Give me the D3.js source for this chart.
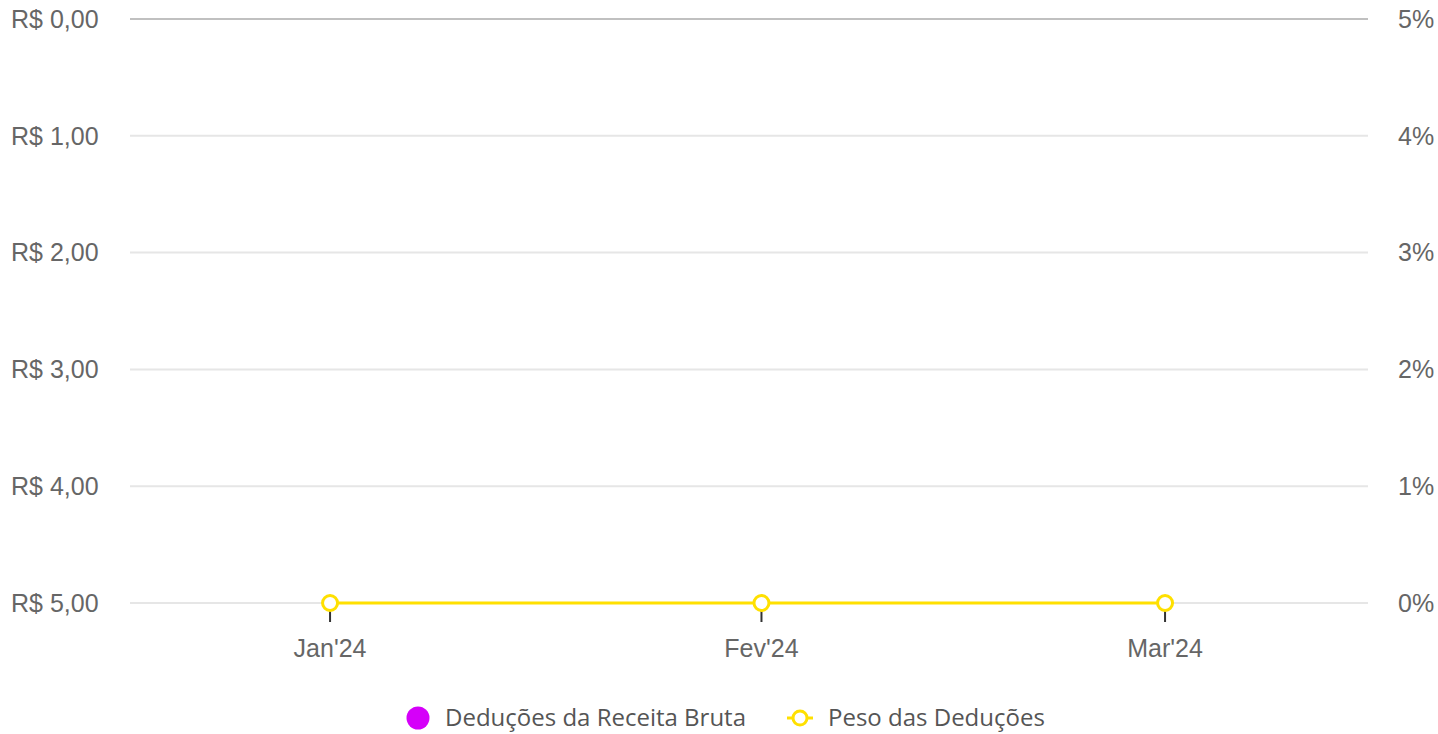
<!DOCTYPE html>
<html>
<head>
<meta charset="utf-8">
<script src="https://cdn.jsdelivr.net/npm/d3@7"></script>
<style>
  body { margin: 0; background: #fff; }
  svg { display: block; }
</style>
</head>
<body>
<div id="chart"></div>
<script>
// data
var months = ["2024-01-01", "2024-02-01", "2024-03-01"];
var monthLabels = ["Jan'24", "Fev'24", "Mar'24"];
var deducoes = [0, 0, 0];       // R$, left axis (reversed)
var peso = [0, 0, 0];           // %, right axis
var leftTicks = [0, 1, 2, 3, 4, 5];
var rightTicks = [0, 1, 2, 3, 4, 5];
var seriesNames = ["Deduções da Receita Bruta", "Peso das Deduções"];

var width = 1438, height = 734;
var margin = { top: 19, right: 70, bottom: 131, left: 130 };
var axisFont = "'Liberation Sans', Arial, sans-serif";

var parse = d3.isoParse;
var dates = months.map(function (m) { return parse(m + "T00:00:00"); });

var svg = d3.select("#chart").append("svg")
    .attr("width", width)
    .attr("height", height);

var x = d3.scaleTime()
    .domain([parse("2023-12-17T15:00:00"), parse("2024-03-15T14:00:00")])
    .range([margin.left, width - margin.right]);

var yLeft = d3.scaleLinear()
    .domain([0, 5])
    .range([margin.top, height - margin.bottom]);

var yRight = d3.scaleLinear()
    .domain([0, 5])
    .range([height - margin.bottom, margin.top]);

var fmtBRL = function (v) { return "R$ " + v.toFixed(2).replace(".", ","); };

// gridlines
svg.append("g").selectAll("line")
    .data(leftTicks)
    .enter().append("line")
    .attr("x1", margin.left)
    .attr("x2", width - margin.right)
    .attr("y1", function (d) { return yLeft(d); })
    .attr("y2", function (d) { return yLeft(d); })
    .attr("stroke", "#e6e6e6")
    .attr("stroke-width", 2);

// baseline of the reversed value axis
svg.append("line")
    .attr("x1", margin.left)
    .attr("x2", width - margin.right)
    .attr("y1", yLeft(0))
    .attr("y2", yLeft(0))
    .attr("stroke", "#9a9a9a")
    .attr("stroke-width", 1);

// left labels
svg.append("g").selectAll("text")
    .data(leftTicks)
    .enter().append("text")
    .attr("x", 11)
    .attr("y", function (d) { return yLeft(d); })
    .attr("dy", "0.35em")
    .style("font-family", axisFont)
    .style("font-size", "25px")
    .attr("fill", "#666")
    .text(fmtBRL);

// right labels
svg.append("g").selectAll("text")
    .data(rightTicks)
    .enter().append("text")
    .attr("x", 1398)
    .attr("y", function (d) { return yRight(d); })
    .attr("dy", "0.35em")
    .style("font-family", axisFont)
    .style("font-size", "25px")
    .attr("fill", "#666")
    .text(function (d) { return d + "%"; });

// x ticks + labels
var xg = svg.append("g").selectAll("g")
    .data(dates)
    .enter().append("g")
    .attr("transform", function (d) { return "translate(" + x(d) + ",0)"; });

xg.append("line")
    .attr("y1", height - margin.bottom)
    .attr("y2", height - margin.bottom + 19)
    .attr("stroke", "#333")
    .attr("stroke-width", 2);

xg.append("text")
    .attr("y", 657)
    .attr("text-anchor", "middle")
    .style("font-family", axisFont)
    .style("font-size", "25px")
    .attr("fill", "#666")
    .text(function (d, i) { return monthLabels[i]; });

// bars for deduções (all zero, so nothing visible)
var barW = 60;
svg.append("g").selectAll("rect")
    .data(deducoes)
    .enter().append("rect")
    .attr("x", function (d, i) { return x(dates[i]) - barW / 2; })
    .attr("y", yLeft(0))
    .attr("width", barW)
    .attr("height", function (d) { return yLeft(d) - yLeft(0); })
    .attr("fill", "#d500f9");

// peso line
var line = d3.line()
    .x(function (d, i) { return x(dates[i]); })
    .y(function (d) { return yRight(d); });

svg.append("path")
    .datum(peso)
    .attr("d", line)
    .attr("fill", "none")
    .attr("stroke", "#ffe000")
    .attr("stroke-width", 3);

svg.append("g").selectAll("circle")
    .data(peso)
    .enter().append("circle")
    .attr("cx", function (d, i) { return x(dates[i]); })
    .attr("cy", function (d) { return yRight(d); })
    .attr("r", 7.5)
    .attr("fill", "#fff")
    .attr("stroke", "#ffe000")
    .attr("stroke-width", 3);

// legend
var legend = svg.append("g")
    .style("font-family", "'Open Sans', sans-serif")
    .style("font-size", "24px")
    .attr("fill", "#555");

legend.append("circle")
    .attr("cx", 418).attr("cy", 718).attr("r", 11.5)
    .attr("fill", "#d500f9");
legend.append("text")
    .attr("x", 445).attr("y", 718).attr("dy", "0.35em")
    .text(seriesNames[0]);

legend.append("line")
    .attr("x1", 787).attr("x2", 813).attr("y1", 718).attr("y2", 718)
    .attr("stroke", "#ffe000").attr("stroke-width", 3);
legend.append("circle")
    .attr("cx", 800).attr("cy", 718).attr("r", 7)
    .attr("fill", "#fff").attr("stroke", "#ffe000").attr("stroke-width", 3);
legend.append("text")
    .attr("x", 828).attr("y", 718).attr("dy", "0.35em")
    .text(seriesNames[1]);
</script>
</body>
</html>
